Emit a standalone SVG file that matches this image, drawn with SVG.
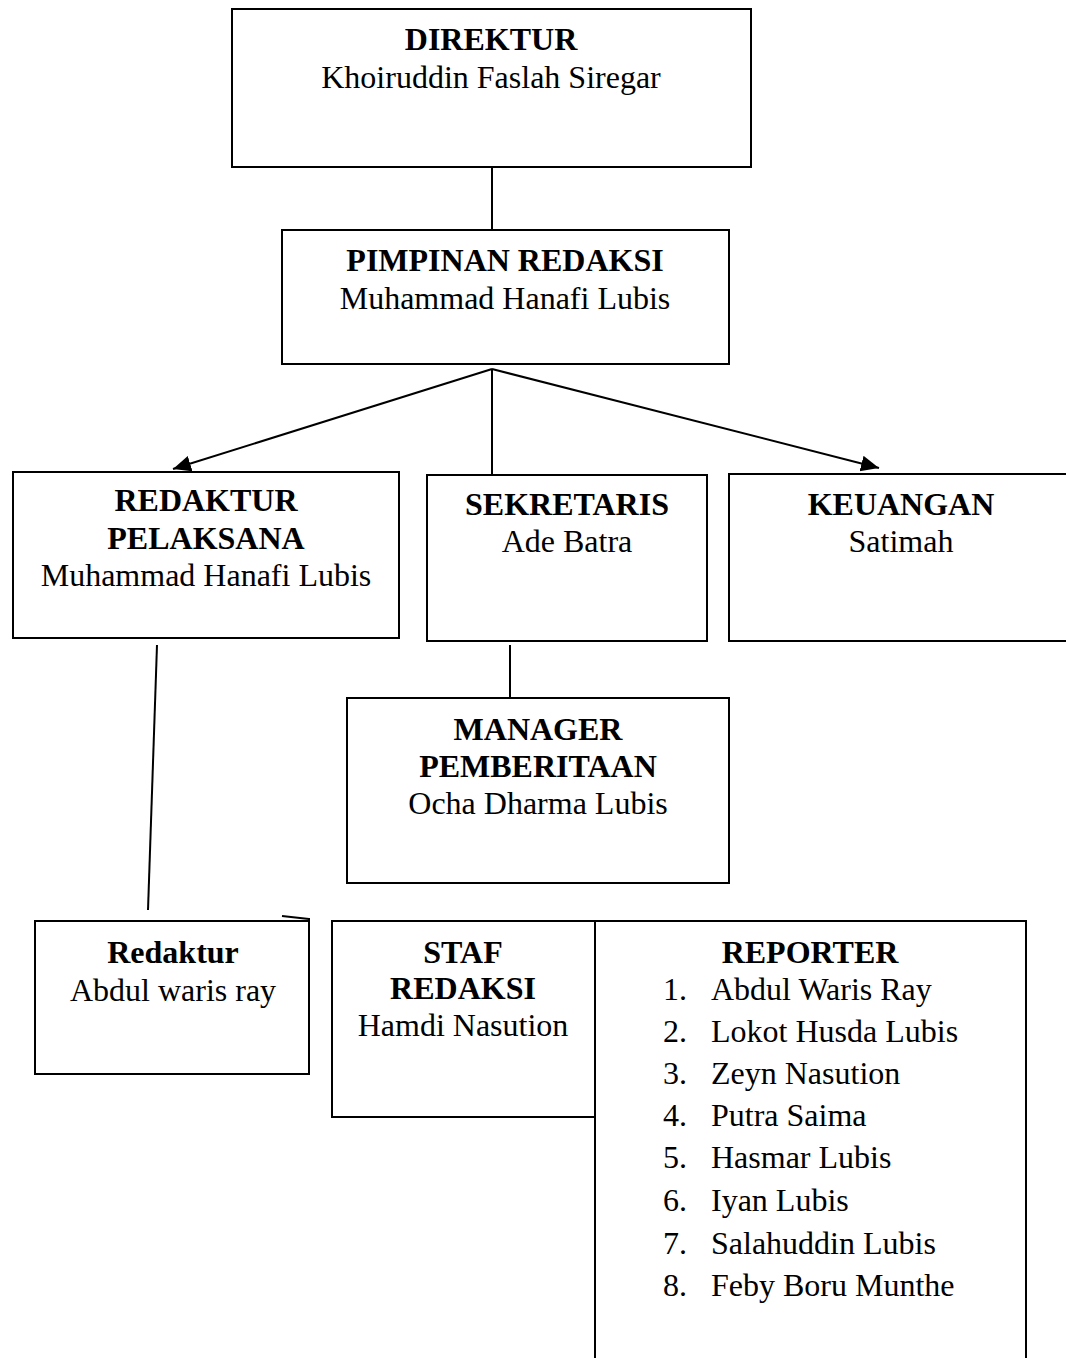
<svg xmlns="http://www.w3.org/2000/svg" width="1066" height="1358" viewBox="0 0 1066 1358">
<style>
.box{fill:#fff;stroke:#000;stroke-width:2}
.ln{stroke:#000;stroke-width:2;fill:none}
text{font-family:"Liberation Serif","Times New Roman",serif;font-size:32px;fill:#000}
.b{font-weight:bold}
.c{text-anchor:middle}
</style>
<defs>
<marker id="arr" markerUnits="userSpaceOnUse" markerWidth="20" markerHeight="18" refX="18" refY="8" orient="auto">
<path d="M0,0 L18,8 L0,16 Z" fill="#000"/>
</marker>
</defs>
<rect width="1066" height="1358" fill="#fff"/>
<g id="connectors">
<line class="ln" x1="492" y1="167" x2="492" y2="230"/>
<line class="ln" x1="492" y1="369" x2="173" y2="469" marker-end="url(#arr)"/>
<line class="ln" x1="492" y1="369" x2="879" y2="468" marker-end="url(#arr)"/>
<line class="ln" x1="492" y1="369" x2="492" y2="475"/>
<line class="ln" x1="510" y1="645" x2="510" y2="698"/>
<line class="ln" x1="157" y1="645" x2="148" y2="910"/>
<line class="ln" x1="282" y1="916" x2="309" y2="919"/>
<line class="ln" x1="571" y1="941" x2="595" y2="940"/>
</g>
<g id="direktur">
<rect class="box" x="232" y="9" width="519" height="158"/>
<text class="c b" x="491" y="50">DIREKTUR</text>
<text class="c" x="491" y="88">Khoiruddin Faslah Siregar</text>
</g>
<g id="pimpinan">
<rect class="box" x="282" y="230" width="447" height="134"/>
<text class="c b" x="505" y="271">PIMPINAN REDAKSI</text>
<text class="c" x="505" y="309">Muhammad Hanafi Lubis</text>
</g>
<g id="redaktur-pelaksana">
<rect class="box" x="13" y="472" width="386" height="166"/>
<text class="c b" x="206" y="511">REDAKTUR</text>
<text class="c b" x="206" y="549">PELAKSANA</text>
<text class="c" x="206" y="586">Muhammad Hanafi Lubis</text>
</g>
<g id="sekretaris">
<rect class="box" x="427" y="475" width="280" height="166"/>
<text class="c b" x="567" y="515">SEKRETARIS</text>
<text class="c" x="567" y="552">Ade Batra</text>
</g>
<g id="keuangan">
<rect class="box" x="729" y="474" width="345" height="167"/>
<text class="c b" x="901" y="515">KEUANGAN</text>
<text class="c" x="901" y="552">Satimah</text>
</g>
<g id="manager">
<rect class="box" x="347" y="698" width="382" height="185"/>
<text class="c b" x="538" y="740">MANAGER</text>
<text class="c b" x="538" y="777">PEMBERITAAN</text>
<text class="c" x="538" y="814">Ocha Dharma Lubis</text>
</g>
<g id="redaktur">
<rect class="box" x="35" y="921" width="274" height="153"/>
<line class="ln" x1="309" y1="918" x2="309" y2="922"/>
<text class="c b" x="173" y="963">Redaktur</text>
<text class="c" x="173" y="1001">Abdul waris ray</text>
</g>
<g id="staf-redaksi">
<rect class="box" x="332" y="921" width="263" height="196"/>
<text class="c b" x="463" y="963">STAF</text>
<text class="c b" x="463" y="999">REDAKSI</text>
<text class="c" x="463" y="1036">Hamdi Nasution</text>
</g>
<g id="reporter">
<rect class="box" x="595" y="921" width="431" height="460"/>
<text class="c b" x="810" y="963">REPORTER</text>
<text x="663" y="1000">1.</text><text x="711" y="1000">Abdul Waris Ray</text>
<text x="663" y="1042">2.</text><text x="711" y="1042">Lokot Husda Lubis</text>
<text x="663" y="1084">3.</text><text x="711" y="1084">Zeyn Nasution</text>
<text x="663" y="1126">4.</text><text x="711" y="1126">Putra Saima</text>
<text x="663" y="1168">5.</text><text x="711" y="1168">Hasmar Lubis</text>
<text x="663" y="1211">6.</text><text x="711" y="1211">Iyan Lubis</text>
<text x="663" y="1254">7.</text><text x="711" y="1254">Salahuddin Lubis</text>
<text x="663" y="1296">8.</text><text x="711" y="1296">Feby Boru Munthe</text>
</g>
</svg>
